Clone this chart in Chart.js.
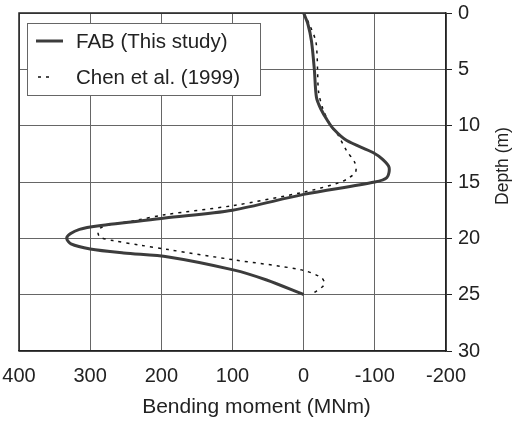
<!DOCTYPE html>
<html>
<head>
<meta charset="utf-8">
<title>Bending moment vs depth</title>
<script src="https://cdn.jsdelivr.net/npm/chart.js@4.4.0/dist/chart.umd.min.js"></script>
<style>
  html, body { margin: 0; padding: 0; background: #fff; }
  #wrap { width: 513px; height: 421px; }
</style>
</head>
<body>
<div id="wrap"><canvas id="momentChart" width="513" height="421"></canvas></div>
<script>
// chart values
const fabDepth = [0, 1, 2.5, 5, 7.5, 8.5, 9.5, 10.3, 11.3, 12.4, 13, 13.7, 14.6, 15.0, 16.1, 17.5, 18.2, 18.9, 19.2, 19.6, 20, 20.5, 20.95, 21.3, 21.65, 22.8, 23.7, 25];
const fabMoment = [0, -6, -11, -15, -18, -24, -33, -42, -60, -98, -111, -120, -117, -100, 0, 100, 195, 290, 315, 328, 333, 327, 300, 253, 190, 99, 52, 0];

const chenDepth = [0, 1, 2.5, 4, 5, 7, 8.5, 10, 10.8, 12.2, 13.3, 14.1, 14.7, 15.1, 15.9, 17.1, 17.9, 18.4, 18.8, 19.1, 19.5, 19.9, 20.2, 20.6, 21.0, 21.9, 22.8, 23.5, 24.1, 24.9];
const chenMoment = [0, -8, -17, -19, -19.5, -21, -27, -38, -48, -60, -72, -73, -62, -48, 0, 100, 195, 235, 272, 286, 289, 286, 268, 230, 190, 99, 3, -25, -29, -13];

const seriesNames = ['FAB (This study)', 'Chen et al. (1999)'];
const xTicks = [400, 300, 200, 100, 0, -100, -200];
const yTicks = [0, 5, 10, 15, 20, 25, 30];
const xTitle = 'Bending moment (MNm)';
const yTitle = 'Depth (m)';

const fontFamily = '"Liberation Sans", Arial, sans-serif';
Chart.defaults.font.family = fontFamily;
Chart.defaults.color = '#222';

function toPoints(depths, moments) {
    return depths.map((d, i) => ({ x: moments[i], y: d }));
}

// drop chart.js label-overflow padding so the plot box sits where layout.padding puts it
function noOverflow(scale) {
    scale.paddingLeft = 0;
    scale.paddingRight = 0;
    scale.paddingTop = 0;
    scale.paddingBottom = 0;
}

// top and left edge of the plot box (chart.js draws bottom and right)
const framePlugin = {
    id: 'frame',
    beforeDatasetsDraw(chart) {
        const { ctx, chartArea: a } = chart;
        ctx.save();
        ctx.strokeStyle = '#222';
        ctx.lineWidth = 1.5;
        ctx.beginPath();
        ctx.moveTo(a.left, a.bottom);
        ctx.lineTo(a.left, a.top);
        ctx.lineTo(a.right, a.top);
        ctx.stroke();
        ctx.restore();
    }
};

// legend box inside the plot, top-left
const boxLegend = {
    id: 'boxLegend',
    afterDatasetsDraw(chart) {
        const ctx = chart.ctx;
        ctx.save();
        ctx.fillStyle = '#fff';
        ctx.fillRect(27.5, 23.5, 233, 72);
        ctx.strokeStyle = '#666';
        ctx.lineWidth = 1;
        ctx.strokeRect(27.5, 23.5, 233, 72);
        ctx.font = '20.5px ' + fontFamily;
        ctx.textBaseline = 'middle';
        const rows = [41, 77];
        chart.data.datasets.forEach((ds, i) => {
            const y = rows[i];
            ctx.strokeStyle = ds.borderColor;
            ctx.lineWidth = ds.borderWidth;
            ctx.setLineDash(ds.borderDash || []);
            ctx.beginPath();
            if (ds.borderDash) {
                ctx.moveTo(38, y);
                ctx.lineTo(51, y);
            } else {
                ctx.moveTo(36, y);
                ctx.lineTo(63, y);
            }
            ctx.stroke();
            ctx.setLineDash([]);
            ctx.fillStyle = '#222';
            ctx.fillText(ds.label, 76, y + 1);
        });
        ctx.restore();
    }
};

// axis titles: x centred on the whole figure, y reading bottom to top
const axisTitles = {
    id: 'axisTitles',
    afterDraw(chart) {
        const ctx = chart.ctx;
        ctx.save();
        ctx.fillStyle = '#222';
        ctx.textAlign = 'center';
        ctx.textBaseline = 'middle';
        ctx.font = '21px ' + fontFamily;
        ctx.fillText(xTitle, 256.5, 407);
        ctx.font = '17.5px ' + fontFamily;
        ctx.translate(503, 166);
        ctx.rotate(-Math.PI / 2);
        ctx.fillText(yTitle, 0, 0);
        ctx.restore();
    }
};

const ctx = document.getElementById('momentChart').getContext('2d');
new Chart(ctx, {
    type: 'scatter',
    data: {
        datasets: [{
            label: seriesNames[0],
            data: toPoints(fabDepth, fabMoment),
            showLine: true,
            borderColor: '#3c3c3c',
            borderWidth: 3,
            pointRadius: 0,
            tension: 0.3,
            fill: false
        }, {
            label: seriesNames[1],
            data: toPoints(chenDepth, chenMoment),
            showLine: true,
            borderColor: '#111',
            borderWidth: 1.5,
            borderDash: [3, 5],
            pointRadius: 0,
            tension: 0.3,
            fill: false
        }]
    },
    options: {
        responsive: false,
        animation: false,
        layout: { padding: { left: 19, top: 13, right: 0, bottom: 0 } },
        plugins: {
            legend: { display: false },
            tooltip: { enabled: false }
        },
        scales: {
            x: {
                type: 'linear',
                reverse: true,
                min: -200,
                max: 400,
                grid: { color: '#666', lineWidth: 1, drawTicks: false },
                border: { color: '#222', width: 1.5 },
                ticks: { padding: 13, font: { size: 20 }, color: '#222', maxRotation: 0 },
                afterBuildTicks: s => { s.ticks = xTicks.map(v => ({ value: v })); },
                afterFit: s => { s.height = 70; noOverflow(s); }
            },
            y: {
                type: 'linear',
                position: 'right',
                reverse: true,
                min: 0,
                max: 30,
                grid: { color: '#666', tickColor: '#222', tickLength: 6, lineWidth: 1 },
                border: { color: '#222', width: 1.5 },
                ticks: { padding: 6, font: { size: 20 }, color: '#222' },
                afterBuildTicks: s => { s.ticks = yTicks.map(v => ({ value: v })); },
                afterFit: s => { s.width = 67; noOverflow(s); }
            }
        }
    },
    plugins: [framePlugin, boxLegend, axisTitles]
});
</script>
</body>
</html>
